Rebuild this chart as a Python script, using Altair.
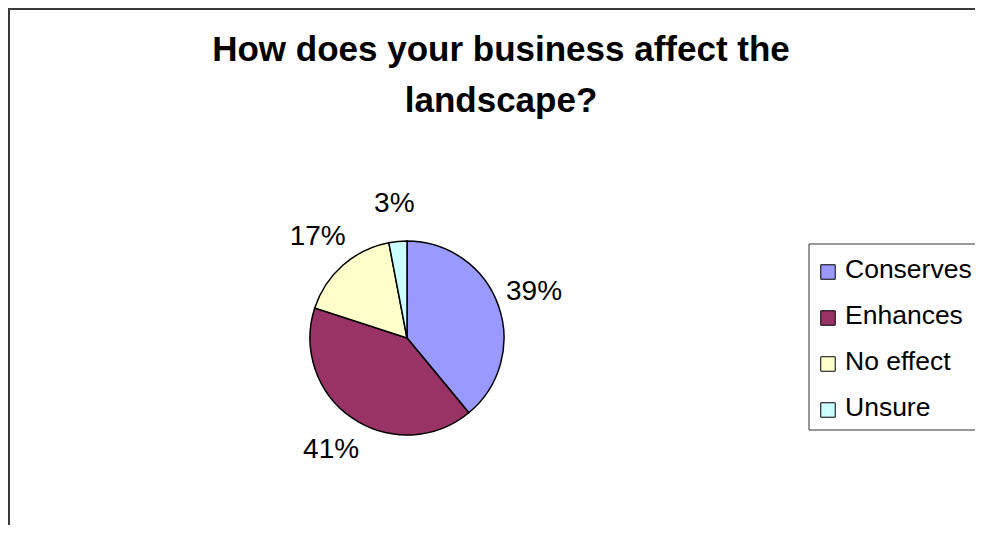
import altair as alt
import pandas as pd

# ---- data ----
CATEGORIES = ["Conserves", "Enhances", "No effect", "Unsure"]
VALUES = [39, 41, 17, 3]
LABELS = ["39%", "41%", "17%", "3%"]
COLORS = ["#9999FF", "#993366", "#FFFFCC", "#CCFFFF"]
TITLE_LINES = ["How does your business affect the", "landscape?"]

df = pd.DataFrame({
    "category": CATEGORIES,
    "value": VALUES,
    "label": LABELS,
    "order": list(range(len(CATEGORIES))),
})
one = pd.DataFrame({"k": [0]})

FONT = "Liberation Sans"
W, H = 967, 517
CX, CY = 399, 330      # pie centre inside the chart
R = 97                 # pie radius
LABEL_R = 135          # label distance from centre

color_scale = alt.Scale(domain=CATEGORIES, range=COLORS)

base = alt.Chart(df).encode(
    theta=alt.Theta("value:Q", stack=True),
    order=alt.Order("order:O"),
    x=alt.value(CX),
    y=alt.value(CY),
)

pie = base.mark_arc(radius=R, stroke="black", strokeWidth=1.5).encode(
    color=alt.Color("category:N", scale=color_scale, legend=None)
)

labels = base.mark_text(radius=LABEL_R, font=FONT, fontSize=28, color="black").encode(
    text="label:N"
)

title = alt.Chart(one).mark_text(
    text=TITLE_LINES,
    font=FONT,
    fontSize=35,
    fontWeight="bold",
    color="black",
    align="center",
    baseline="alphabetic",
    lineHeight=51,
).encode(x=alt.value(493), y=alt.value(53))

# ---- legend (box + swatches + labels) ----
legend_y = alt.Y(
    "category:N",
    scale=alt.Scale(type="point", domain=CATEGORIES, range=[264, 402], padding=0),
    axis=None,
)

legend_box = alt.Chart(one).mark_rect(
    fill="white", stroke="#333333", strokeWidth=1
).encode(x=alt.value(801), x2=alt.value(990), y=alt.value(236), y2=alt.value(422))

legend_swatch = alt.Chart(df).mark_square(
    size=210, stroke="black", strokeWidth=1, opacity=1, filled=True
).encode(
    x=alt.value(820),
    y=legend_y,
    color=alt.Color("category:N", scale=color_scale, legend=None),
)

legend_text = alt.Chart(df).mark_text(
    font=FONT, fontSize=26.5, color="black", align="left", baseline="alphabetic", dy=6
).encode(x=alt.value(837), y=legend_y, text="category:N")

border_left = alt.Chart(one).mark_rule(color="#3a3a3a", strokeWidth=2).encode(
    x=alt.value(1), y=alt.value(0), y2=alt.value(H)
)
border_top = alt.Chart(one).mark_rule(color="#3a3a3a", strokeWidth=2).encode(
    y=alt.value(1), x=alt.value(0), x2=alt.value(W)
)

chart = (
    alt.layer(
        border_left, border_top, title, pie, labels,
        legend_box, legend_swatch, legend_text,
    )
    .properties(width=W, height=H, autosize="none", padding=0)
    .configure_view(stroke=None)
    .configure(background="white")
)

chart.save("out.html", embed_options={"renderer": "svg", "actions": False})
